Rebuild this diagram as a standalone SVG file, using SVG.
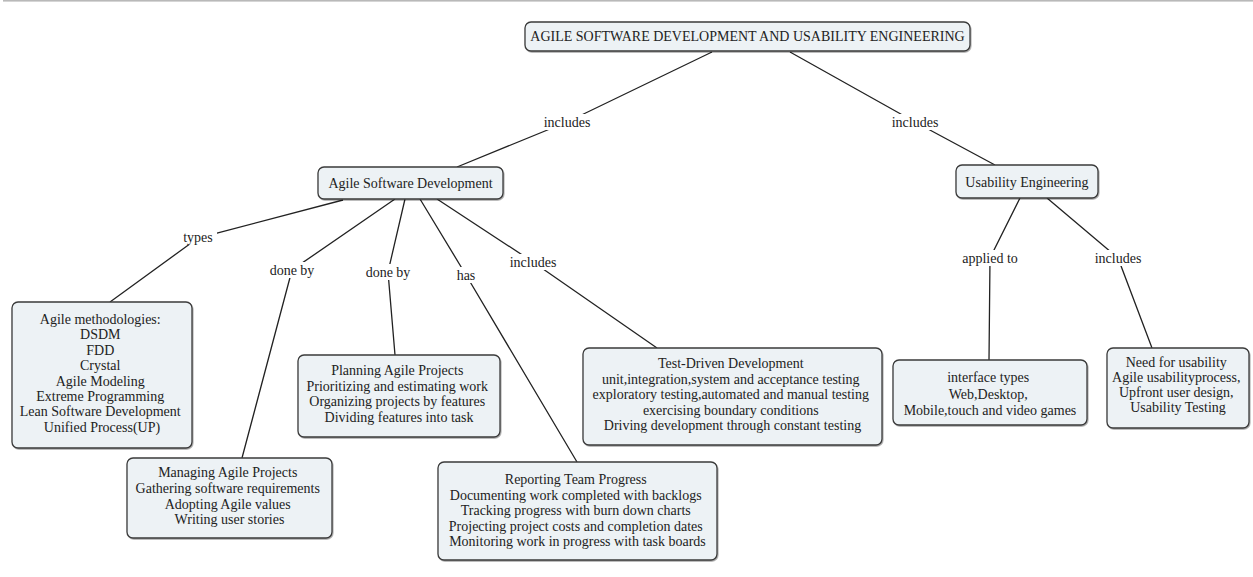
<svg xmlns="http://www.w3.org/2000/svg" width="1253" height="577" viewBox="0 0 1253 577">
  <style>
    .box { fill: #edf2f5; stroke: #3a3a3a; stroke-width: 1.3; }
    .txt { font-family: "Liberation Serif", "Times New Roman", serif; font-size: 14px; fill: #222; text-anchor: middle; }
    .link { fill: none; stroke: #222; stroke-width: 1.3; }
    .lblbg { fill: #ffffff; }
  </style>
  <defs>
    <filter id="shadow" x="-5%" y="-5%" width="110%" height="115%">
      <feDropShadow dx="0.8" dy="1" stdDeviation="0.6" flood-color="#000" flood-opacity="0.35"/>
    </filter>
  </defs>

  <rect x="3" y="0" width="1250" height="1.6" fill="#b9b9b9"/>

  <!-- connectors: concept -> linking phrase -> concept -->
  <g id="connectors">
    <polyline class="link" points="712,52 567,122 457,167"/>
    <polyline class="link" points="790,52 915,122 995,165"/>
    <polyline class="link" points="343,200 198,238 110,302"/>
    <polyline class="link" points="395,199 292,270 242,458"/>
    <polyline class="link" points="405,199 388,272 395,355"/>
    <polyline class="link" points="420,199 466,275 577,462"/>
    <polyline class="link" points="437,199 533,262 657,348"/>
    <polyline class="link" points="1020,198 990,258 989,360"/>
    <polyline class="link" points="1047,198 1118,258 1152,348"/>

    <g id="link-labels">
      <rect class="lblbg" x="541" y="114" width="52" height="16"/>
      <text class="txt" x="567" y="127">includes</text>
      <rect class="lblbg" x="889" y="114" width="52" height="16"/>
      <text class="txt" x="915" y="127">includes</text>
      <rect class="lblbg" x="179" y="229" width="38" height="16"/>
      <text class="txt" x="198" y="242">types</text>
      <rect class="lblbg" x="267" y="262" width="50" height="16"/>
      <text class="txt" x="292" y="275">done by</text>
      <rect class="lblbg" x="363" y="264" width="50" height="16"/>
      <text class="txt" x="388" y="277">done by</text>
      <rect class="lblbg" x="452" y="267" width="28" height="16"/>
      <text class="txt" x="466" y="280">has</text>
      <rect class="lblbg" x="507" y="254" width="52" height="16"/>
      <text class="txt" x="533" y="267">includes</text>
      <rect class="lblbg" x="960" y="250" width="60" height="16"/>
      <text class="txt" x="990" y="263">applied to</text>
      <rect class="lblbg" x="1092" y="250" width="52" height="16"/>
      <text class="txt" x="1118" y="263">includes</text>
    </g>
  </g>

  <g id="root">
    <rect class="box" filter="url(#shadow)" x="525" y="22" width="445" height="29" rx="6"/>
    <text class="txt" x="747.5" y="41" font-size="13.1">AGILE SOFTWARE DEVELOPMENT AND USABILITY ENGINEERING</text>
  </g>

  <g id="agile-software-development">
    <rect class="box" filter="url(#shadow)" x="318" y="167" width="185" height="32" rx="6"/>
    <text class="txt" x="410.5" y="188">Agile Software Development</text>
  </g>

  <g id="usability-engineering">
    <rect class="box" filter="url(#shadow)" x="956" y="165" width="142" height="33" rx="6"/>
    <text class="txt" x="1027" y="187">Usability Engineering</text>
  </g>

  <g id="agile-methodologies">
    <rect class="box" filter="url(#shadow)" x="12" y="302" width="180" height="146" rx="6"/>
    <text class="txt" x="102" y="324">
      <tspan x="102" dy="0">Agile methodologies:</tspan>
      <tspan x="102" dy="15.4">DSDM</tspan>
      <tspan x="102" dy="15.4">FDD</tspan>
      <tspan x="102" dy="15.4">Crystal</tspan>
      <tspan x="102" dy="15.4">Agile Modeling</tspan>
      <tspan x="102" dy="15.4">Extreme Programming</tspan>
      <tspan x="102" dy="15.4">Lean Software Development</tspan>
      <tspan x="102" dy="15.4">Unified Process(UP)</tspan>
    </text>
  </g>

  <g id="managing-agile-projects">
    <rect class="box" filter="url(#shadow)" x="127" y="458" width="205" height="80" rx="6"/>
    <text class="txt" x="229.5" y="477">
      <tspan x="229.5" dy="0">Managing Agile Projects</tspan>
      <tspan x="229.5" dy="15.8">Gathering software requirements</tspan>
      <tspan x="229.5" dy="15.8">Adopting Agile values</tspan>
      <tspan x="229.5" dy="15.8">Writing user stories</tspan>
    </text>
  </g>

  <g id="planning-agile-projects">
    <rect class="box" filter="url(#shadow)" x="298" y="355" width="202" height="82" rx="6"/>
    <text class="txt" x="399" y="375">
      <tspan x="399" dy="0">Planning Agile Projects</tspan>
      <tspan x="399" dy="15.6">Prioritizing and estimating work</tspan>
      <tspan x="399" dy="15.6">Organizing projects by features</tspan>
      <tspan x="399" dy="15.6">Dividing features into task</tspan>
    </text>
  </g>

  <g id="reporting-team-progress">
    <rect class="box" filter="url(#shadow)" x="438" y="462" width="279" height="98" rx="6"/>
    <text class="txt" x="577.5" y="484">
      <tspan x="577.5" dy="0">Reporting Team Progress</tspan>
      <tspan x="577.5" dy="15.6">Documenting work completed with backlogs</tspan>
      <tspan x="577.5" dy="15.6">Tracking progress with burn down charts</tspan>
      <tspan x="577.5" dy="15.6">Projecting project costs and completion dates</tspan>
      <tspan x="577.5" dy="15.6">Monitoring work in progress with task boards</tspan>
    </text>
  </g>

  <g id="test-driven-development">
    <rect class="box" filter="url(#shadow)" x="583" y="348" width="299" height="97" rx="6"/>
    <text class="txt" x="732.5" y="368">
      <tspan x="732.5" dy="0">Test-Driven Development</tspan>
      <tspan x="732.5" dy="15.5">unit,integration,system and acceptance testing</tspan>
      <tspan x="732.5" dy="15.5">exploratory testing,automated and manual testing</tspan>
      <tspan x="732.5" dy="15.5">exercising boundary conditions</tspan>
      <tspan x="732.5" dy="15.5">Driving development through constant testing</tspan>
    </text>
  </g>

  <g id="interface-types">
    <rect class="box" filter="url(#shadow)" x="893" y="360" width="194" height="65" rx="6"/>
    <text class="txt" x="990" y="382">
      <tspan x="990" dy="0">interface types</tspan>
      <tspan x="990" dy="16.5">Web,Desktop,</tspan>
      <tspan x="990" dy="16.5">Mobile,touch and video games</tspan>
    </text>
  </g>

  <g id="need-for-usability">
    <rect class="box" filter="url(#shadow)" x="1107" y="348" width="142" height="80" rx="6"/>
    <text class="txt" x="1178" y="367">
      <tspan x="1178" dy="0">Need for usability</tspan>
      <tspan x="1178" dy="15">Agile usabilityprocess,</tspan>
      <tspan x="1178" dy="15">Upfront user design,</tspan>
      <tspan x="1178" dy="15">Usability Testing</tspan>
    </text>
  </g>
</svg>
